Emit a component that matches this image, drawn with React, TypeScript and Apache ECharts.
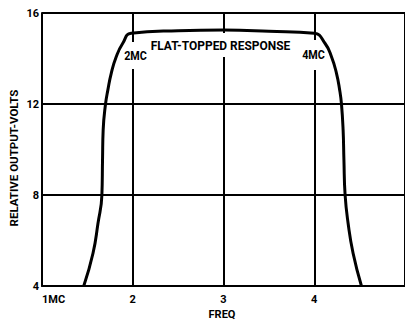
import React, { useEffect, useRef } from "react";
import * as echarts from "echarts";

const freqs = [1.46, 1.562, 1.617, 1.66, 1.667, 1.674, 1.70, 1.726, 1.763, 1.818, 1.89, 1.982, 2.5, 3.0, 3.5, 4.0, 4.118, 4.19, 4.245, 4.28, 4.30, 4.318, 4.327, 4.34, 4.373, 4.428, 4.52];
const volts = [4.0, 5.44, 6.76, 8.0, 9.54, 10.86, 12.0, 12.62, 13.35, 14.08, 14.67, 15.11, 15.22, 15.25, 15.2, 15.11, 14.67, 14.08, 13.35, 12.62, 12.0, 10.86, 9.54, 8.0, 6.76, 5.44, 4.0];
const xTickLabels = ["1MC", "2", "3", "4", ""];
const yTickLabels = ["4", "8", "12", "16"];
const annotations = ["2MC", "FLAT-TOPPED RESPONSE", "4MC"];

const FONT = "Roboto, 'Liberation Sans', sans-serif";

export default function App() {
  const ref = useRef<HTMLDivElement>(null);
  useEffect(() => {
    if (!ref.current) return;
    const chart = echarts.init(ref.current, null, { renderer: "svg" });
    const data = freqs.map((f, i) => [f, volts[i]]);
    chart.setOption({
      animation: false,
      backgroundColor: "#ffffff",
      grid: { left: 42, top: 13, right: -2, bottom: 35, containLabel: false },
      xAxis: {
        type: "value",
        min: 1,
        max: 5,
        interval: 1,
        axisLine: { show: true, lineStyle: { color: "#000", width: 2 } },
        axisTick: { show: false },
        splitLine: { show: true, lineStyle: { color: "#000", width: 2 } },
        axisLabel: {
          margin: 8,
          color: "#000",
          fontFamily: FONT,
          fontWeight: "bold",
          fontSize: 11,
          lineHeight: 11,
          alignMinLabel: "left",
          showMaxLabel: false,
          formatter: (v: number) => xTickLabels[Math.round(v) - 1] ?? "",
        },
      },
      yAxis: {
        type: "value",
        min: 4,
        max: 16,
        interval: 4,
        axisLine: { show: true, lineStyle: { color: "#000", width: 2 } },
        axisTick: { show: false },
        splitLine: { show: true, lineStyle: { color: "#000", width: 2 } },
        axisLabel: {
          margin: 3,
          color: "#000",
          fontFamily: FONT,
          fontWeight: "bold",
          fontSize: 11,
          formatter: (v: number) => yTickLabels[Math.round((v - 4) / 4)] ?? "",
        },
      },
      series: [
        {
          type: "line",
          data,
          smooth: 0.5,
          showSymbol: false,
          symbol: "none",
          z: 3,
          lineStyle: { color: "#000", width: 3 },
        },
      ],
      graphic: [
        {
          type: "text",
          z: 1,
          x: 135.5,
          y: 55.5,
          scaleX: 0.9,
          style: {
            text: annotations[0],
            fill: "#000",
            font: `bold 12px ${FONT}`,
            align: "center",
            verticalAlign: "middle",
            backgroundColor: "#fff",
            padding: [8, 1, 7, 1],
          },
        },
        {
          type: "text",
          z: 1,
          x: 220.5,
          y: 45,
          scaleX: 0.92,
          style: {
            text: annotations[1],
            fill: "#000",
            font: `bold 13px ${FONT}`,
            align: "center",
            verticalAlign: "middle",
            backgroundColor: "#fff",
            padding: [8, 2, 3, 2],
          },
        },
        {
          type: "text",
          z: 1,
          x: 313.5,
          y: 55,
          scaleX: 0.9,
          style: {
            text: annotations[2],
            fill: "#000",
            font: `bold 12px ${FONT}`,
            align: "center",
            verticalAlign: "middle",
            backgroundColor: "#fff",
            padding: [13, 1, 5, 1],
          },
        },
        {
          type: "text",
          x: 222,
          y: 314,
          style: {
            text: "FREQ",
            fill: "#000",
            font: `bold 11px ${FONT}`,
            align: "center",
            verticalAlign: "middle",
          },
        },
        {
          type: "text",
          x: 14,
          y: 158,
          rotation: Math.PI / 2,
          style: {
            text: "RELATIVE OUTPUT-VOLTS",
            fill: "#000",
            font: `bold 11.5px ${FONT}`,
            align: "center",
            verticalAlign: "middle",
          },
        },
      ],
    });
    return () => chart.dispose();
  }, []);
  return <div ref={ref} style={{ width: 405, height: 321, position: "absolute", left: 0, top: 0 }} />;
}
